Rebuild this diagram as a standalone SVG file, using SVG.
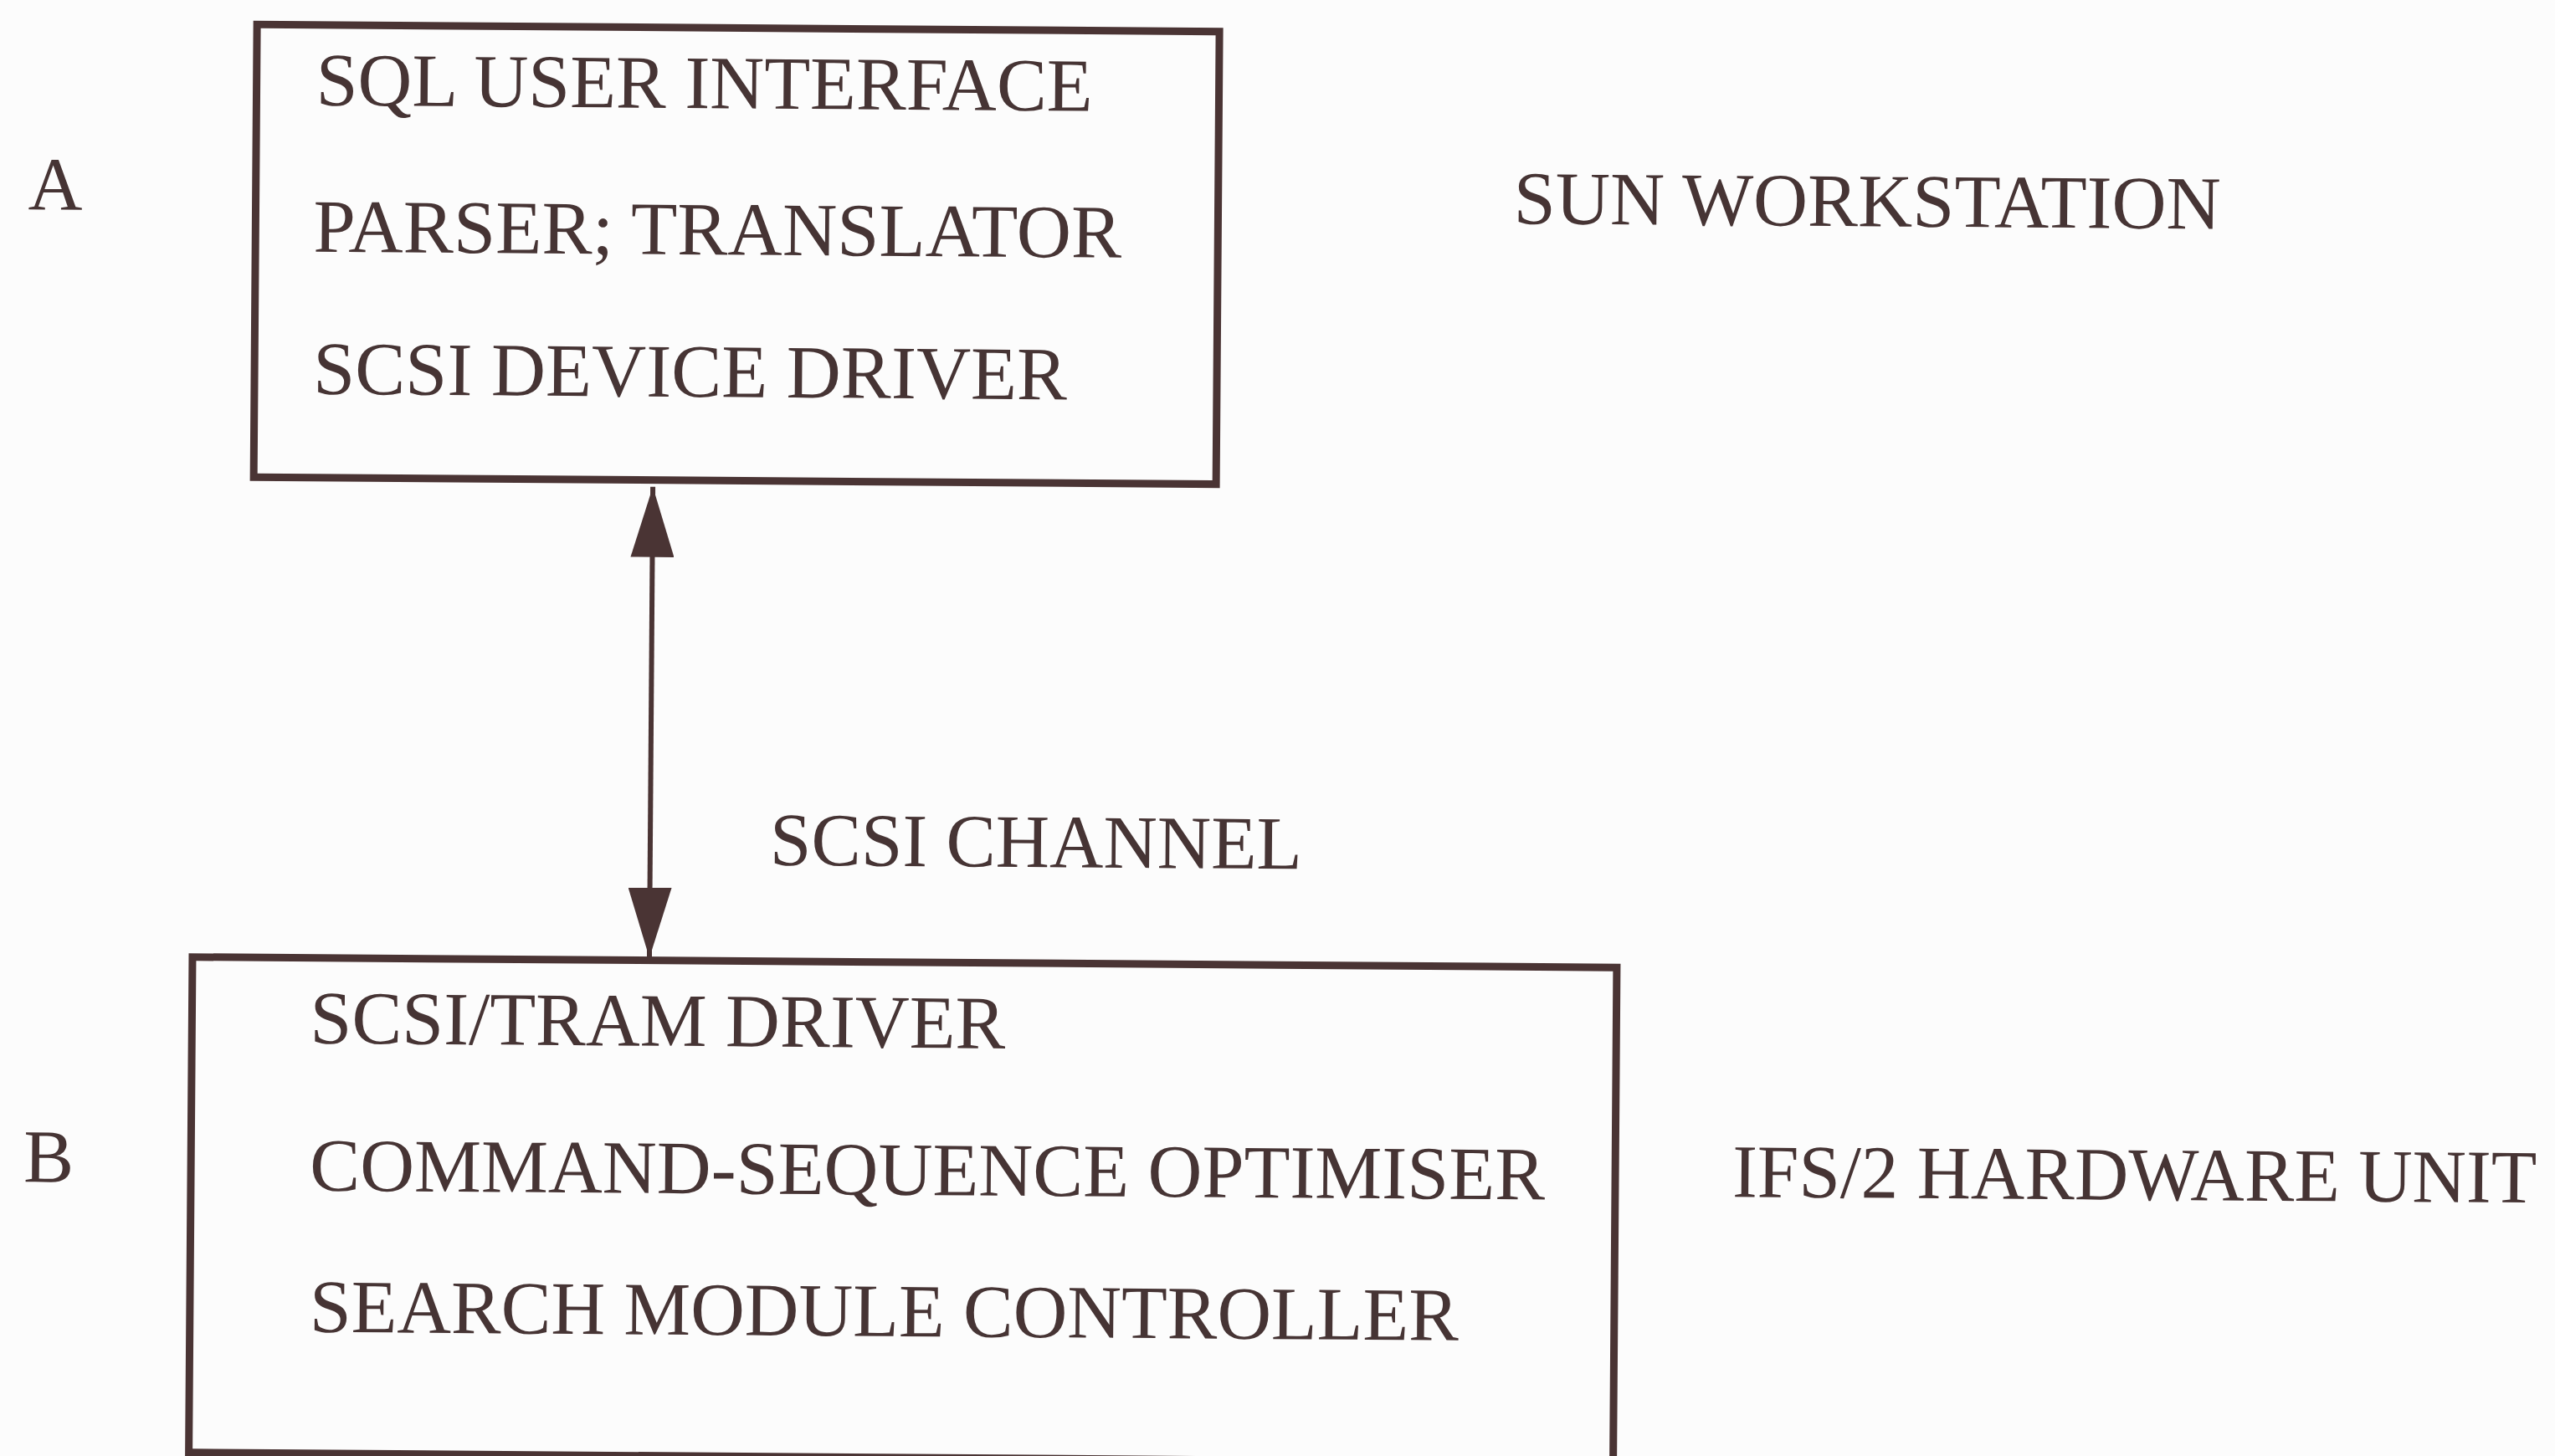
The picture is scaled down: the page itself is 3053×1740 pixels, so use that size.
<svg xmlns="http://www.w3.org/2000/svg" width="3053" height="1740" viewBox="0 0 3053 1740">
  <style>
    .box { fill: none; stroke: #4a3434; stroke-width: 9; }
    .conn { stroke: #4a3434; stroke-width: 6; fill: none; }
    .t { font-family: "Liberation Serif", "Times New Roman", serif; font-size: 90px; fill: #463434; }
  </style>
  <defs>
    <marker id="ah" viewBox="0 0 84 52" refX="84" refY="26" markerWidth="84" markerHeight="52" markerUnits="userSpaceOnUse" orient="auto-start-reverse">
      <path d="M0,0 L84,26 L0,52 z" fill="#4a3434"/>
    </marker>
  </defs>
  <rect x="0" y="0" width="3053" height="1740" fill="#fcfcfc"/>
  <g transform="rotate(0.42 1500 870)">
    <g id="nodeA">
      <rect class="box" x="301" y="38" width="1150" height="541"/>
      <text class="t" x="372" y="134" textLength="928" lengthAdjust="spacingAndGlyphs">SQL USER INTERFACE</text>
      <text class="t" x="370" y="309" textLength="966" lengthAdjust="spacingAndGlyphs">PARSER; TRANSLATOR</text>
      <text class="t" x="371" y="479" textLength="901" lengthAdjust="spacingAndGlyphs">SCSI DEVICE DRIVER</text>
    </g>
    <g id="labelA">
      <text class="t" x="29" y="261">A</text>
    </g>
    <g id="sun">
      <text class="t" x="1804" y="265" textLength="845" lengthAdjust="spacingAndGlyphs">SUN WORKSTATION</text>
    </g>
    <g id="nodeB">
      <rect class="box" x="232" y="1153" width="1702" height="592"/>
      <text class="t" x="373" y="1255" textLength="831" lengthAdjust="spacingAndGlyphs">SCSI/TRAM DRIVER</text>
      <text class="t" x="374" y="1431" textLength="1476" lengthAdjust="spacingAndGlyphs">COMMAND-SEQUENCE OPTIMISER</text>
      <text class="t" x="375" y="1600" textLength="1373" lengthAdjust="spacingAndGlyphs">SEARCH MODULE CONTROLLER</text>
    </g>
    <g id="labelB">
      <text class="t" x="32" y="1423">B</text>
    </g>
    <g id="ifs">
      <text class="t" x="2074" y="1426" textLength="961" lengthAdjust="spacingAndGlyphs">IFS/2 HARDWARE UNIT</text>
    </g>
    <g id="connectors">
      <line class="conn" x1="778" y1="587" x2="778" y2="1150" marker-start="url(#ah)" marker-end="url(#ah)"/>
      <text class="t" x="921" y="1038" textLength="636" lengthAdjust="spacingAndGlyphs">SCSI CHANNEL</text>
    </g>
  </g>
</svg>
